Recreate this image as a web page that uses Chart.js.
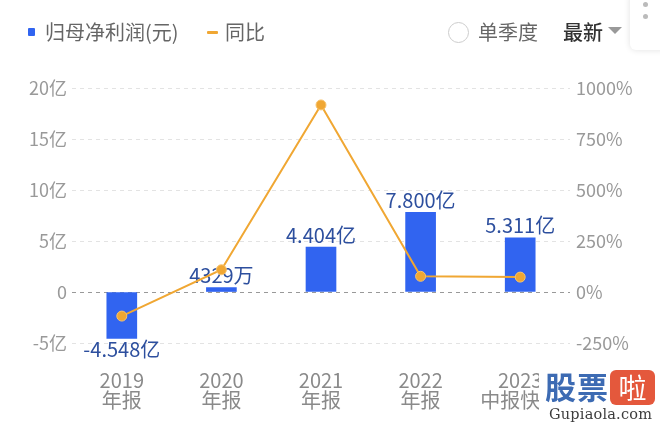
<!DOCTYPE html>
<html>
<head>
<meta charset="utf-8">
<script src="https://cdn.jsdelivr.net/npm/chart.js@4"></script>
<style>
  html, body { margin: 0; padding: 0; background: #fff; }
  body { width: 660px; height: 430px; position: relative; overflow: hidden; font-family: "Noto Sans CJK SC", sans-serif; }
  #wrap { position: absolute; left: 0; top: 0; width: 660px; height: 430px; }
  .lg { position: absolute; top: 18px; font-size: 20px; color: #666; line-height: 28px; white-space: nowrap; }
  .sq { position: absolute; left: 28px; top: 28px; width: 7px; height: 8px; background: #3164f0; border-radius: 1px; }
  .dash { position: absolute; left: 207px; top: 31px; width: 11px; height: 3px; background: #f0a733; border-radius: 1px; }
  .circ { position: absolute; left: 448px; top: 22px; width: 21px; height: 21px; border: 1px solid #ccc; border-radius: 50%; box-sizing: border-box; }
  .tri { position: absolute; left: 608px; top: 27px; width: 0; height: 0; border-left: 7px solid transparent; border-right: 7px solid transparent; border-top: 7px solid #999; }
  .panel { position: absolute; left: 630px; top: -8px; width: 40px; height: 58px; background: #fff; border-radius: 6px; box-shadow: 0 0 6px rgba(0,0,0,0.12); }
  .dot { position: absolute; left: 643px; width: 5px; height: 5px; background: #bbb; border-radius: 50%; }
  .wm { position: absolute; left: 539px; top: 366px; width: 121px; height: 64px; background: #fff; }
  .wm .gp { position: absolute; left: 6px; top: 0; font-size: 31px; font-weight: bold; color: #3d6bb3; line-height: 40px; letter-spacing: 1px; }
  .wm .la { position: absolute; left: 71px; top: 4px; width: 45px; height: 35px; background: #e4583c; border-radius: 6px; color: #fff; font-family: "Noto Sans CJK SC", serif; font-size: 28px; line-height: 35px; text-align: center; }
  .wm .url { position: absolute; left: 10px; top: 40px; font-family: "DejaVu Serif", serif; font-size: 14.5px; color: #3d3d3d; letter-spacing: 0.2px; }
</style>
</head>
<body>
<div id="wrap"><canvas id="chart01" width="660" height="430"></canvas></div>
<div class="sq"></div>
<div class="lg" style="left:45px">归母净利润(元)</div>
<div class="dash"></div>
<div class="lg" style="left:225px">同比</div>
<div class="circ"></div>
<div class="lg" style="left:478px">单季度</div>
<div class="lg" style="left:563px;color:#333;font-weight:500">最新</div>
<div class="tri"></div>
<div class="panel"></div>
<div class="dot" style="top:2px"></div>
<div class="dot" style="top:14px"></div>
<div class="wm">
  <div class="gp">股票</div>
  <div class="la">啦</div>
  <div class="url">Gupiaola.com</div>
</div>
<script>
// 年度と値（利益は億元、同比は%）
var years = [['2019', '年报'], ['2020', '年报'], ['2021', '年报'], ['2022', '年报'], ['2023', '中报快报']];
var profit = [-4.548, 0.4329, 4.404, 7.800, 5.311];
var profitLabels = ['-4.548亿', '4329万', '4.404亿', '7.800亿', '5.311亿'];
var yoy = [-118, 109, 917, 77, 73];

var leftTicks = { '-5': '-5亿', '0': '0', '5': '5亿', '10': '10亿', '15': '15亿', '20': '20亿' };

var tickFont = { family: '"Noto Sans CJK SC", sans-serif', size: 18 };

// 棒の上（負なら下）に値を書く
var barLabels = {
  id: 'barLabels',
  afterDatasetDraw: function(chart, args) {
    if (args.index !== 0) return;
    var ctx = chart.ctx;
    ctx.save();
    ctx.font = '20px "Noto Sans CJK SC", sans-serif';
    ctx.fillStyle = '#2d4f9e';
    ctx.textAlign = 'center';
    args.meta.data.forEach(function(bar, i) {
      if (profit[i] >= 0) {
        ctx.textBaseline = 'bottom';
        ctx.fillText(profitLabels[i], bar.x, bar.y - 2);
      } else {
        ctx.textBaseline = 'top';
        ctx.fillText(profitLabels[i], bar.x, bar.y + 1);
      }
    });
    ctx.restore();
  }
};

var ctx = document.getElementById('chart01');
var chart = new Chart(ctx, {
  type: 'bar',
  data: {
    labels: years,
    datasets: [{
      type: 'bar',
      label: '归母净利润(元)',
      data: profit,
      backgroundColor: '#3164f0',
      barThickness: 30,
      yAxisID: 'y',
      order: 1
    }, {
      type: 'line',
      label: '同比',
      data: yoy,
      borderColor: '#f0a733',
      borderWidth: 2,
      pointRadius: 5,
      pointBackgroundColor: '#f0a733',
      pointBorderColor: '#f7c470',
      pointBorderWidth: 1,
      tension: 0,
      yAxisID: 'y1',
      order: 0
    }]
  },
  plugins: [barLabels],
  options: {
    responsive: false,
    animation: false,
    layout: { padding: { top: 88, bottom: 0, left: 0, right: 0 } },
    plugins: {
      legend: { display: false },
      tooltip: { enabled: false }
    },
    scales: {
      x: {
        offset: true,
        afterFit: function(scale) { scale.height = 87; },
        grid: { display: false },
        border: { display: false },
        ticks: { color: '#8a8a8a', font: { family: tickFont.family, size: 20, lineHeight: 1.0 }, padding: 19, maxRotation: 0 }
      },
      y: {
        position: 'left',
        min: -5,
        max: 20,
        afterFit: function(scale) { scale.width = 72; },
        grid: {
          drawTicks: false,
          color: function(c) { return c.tick && c.tick.value === 0 ? '#999' : '#e3e3e3'; }
        },
        border: { display: false, dash: [4, 4] },
        ticks: {
          stepSize: 5,
          color: '#999',
          font: tickFont,
          padding: 5,
          callback: function(v) { return leftTicks[String(v)]; }
        }
      },
      y1: {
        position: 'right',
        min: -250,
        max: 1000,
        afterFit: function(scale) { scale.width = 90; },
        grid: { display: false, drawTicks: false },
        border: { display: false },
        ticks: {
          stepSize: 250,
          color: '#999',
          font: tickFont,
          padding: 6,
          callback: function(v) { return v + '%'; }
        }
      }
    }
  }
});
</script>
</body>
</html>
